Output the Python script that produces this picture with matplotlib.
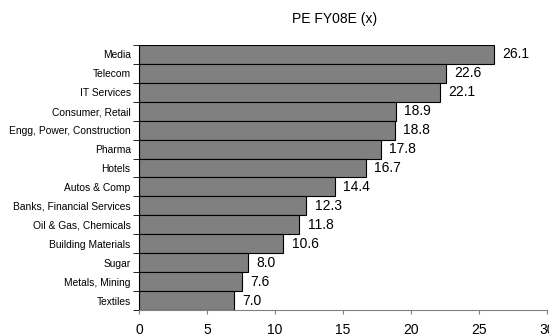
import matplotlib.pyplot as plt
import numpy as np

plt.rcParams['font.family'] = ['Liberation Sans', 'DejaVu Sans']

sectors = ['Media', 'Telecom', 'IT Services', 'Consumer, Retail',
           'Engg, Power, Construction', 'Pharma', 'Hotels', 'Autos & Comp',
           'Banks, Financial Services', 'Oil & Gas, Chemicals',
           'Building Materials', 'Sugar', 'Metals, Mining', 'Textiles']
pe_values = [26.1, 22.6, 22.1, 18.9, 18.8, 17.8, 16.7, 14.4,
             12.3, 11.8, 10.6, 8.0, 7.6, 7.0]

fig = plt.figure(figsize=(5.49, 3.35), dpi=100)
ax = fig.add_axes([0.2532, 0.0746, 0.7432, 0.7911])

y = np.arange(len(sectors))
ax.barh(y, pe_values, height=1.0, color='#808080', edgecolor='black', linewidth=0.8)

for yi, v in zip(y, pe_values):
    ax.annotate('{:.1f}'.format(v), (v, yi), xytext=(6, 0), textcoords='offset points',
                ha='left', va='center', fontsize=10)

ax.set_xlim(0, 30)
ax.set_ylim(len(sectors) - 0.5, -0.5)
ax.set_xticks(range(0, 31, 5))
ax.tick_params(axis='x', labelsize=10, length=3, color='#808080', direction='out', pad=6)
ax.set_yticks(y)
ax.set_yticklabels(sectors, fontsize=7.4)
ax.set_yticks(np.arange(-0.5, len(sectors), 1.0), minor=True)
ax.tick_params(axis='y', which='major', length=0, pad=6)
ax.tick_params(axis='y', which='minor', length=4, color='black', direction='out')

ax.spines['top'].set_visible(False)
ax.spines['right'].set_visible(False)
ax.spines['bottom'].set_color('#808080')
ax.spines['left'].set_color('black')

fig.text(334.5 / 549, 1 - 19 / 335, 'PE FY08E (x)', fontsize=10, ha='center', va='center')

fig.savefig('out.png', dpi=100)
